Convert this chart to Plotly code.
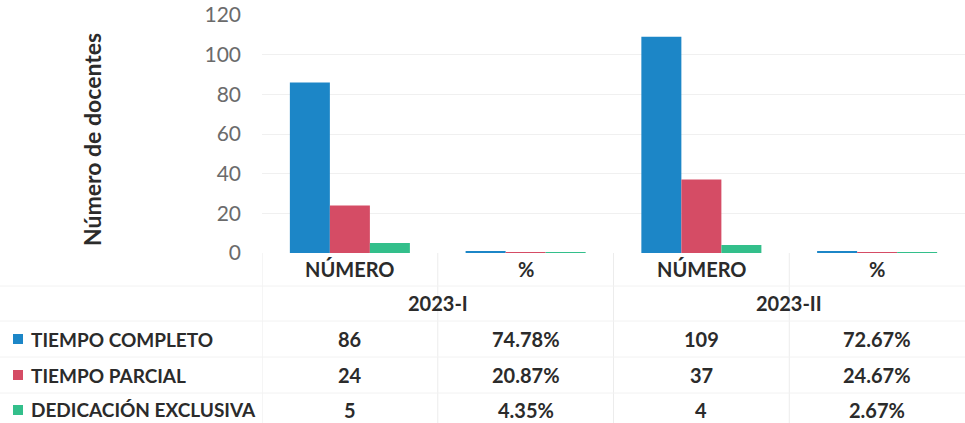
import plotly.graph_objects as go

categories = ["2023-I|NÚMERO", "2023-I|%", "2023-II|NÚMERO", "2023-II|%"]
sub_labels = ["NÚMERO", "%", "NÚMERO", "%"]
periods = ["2023-I", "2023-II"]
series_names = ["TIEMPO COMPLETO", "TIEMPO PARCIAL", "DEDICACIÓN EXCLUSIVA"]
tiempo_completo = [86, 0.7478, 109, 0.7267]
tiempo_parcial = [24, 0.2087, 37, 0.2467]
dedicacion_exclusiva = [5, 0.0435, 4, 0.0267]
table_text = [
    ["86", "74.78%", "109", "72.67%"],
    ["24", "20.87%", "37", "24.67%"],
    ["5", "4.35%", "4", "2.67%"],
]
y_ticks = [0, 20, 40, 60, 80, 100, 120]

colors = ["#1c86c7", "#d54c65", "#33bf8b"]
FONT = "Lato"
DARK = "#2b2b2b"

fig = go.Figure()
for name, vals, c in zip(series_names, [tiempo_completo, tiempo_parcial, dedicacion_exclusiva], colors):
    fig.add_trace(go.Bar(x=categories, y=vals, name=name, marker_color=c,
                         marker_line_width=0, showlegend=False))

# plot area: left 262, right 965, top 15, bottom 253
PH = 238.0
def py(pix):
    return (253 - pix) / PH

def px(pix):
    return (pix - 262) / 703.0

ann = []
for i, lab in enumerate(sub_labels):
    ann.append(dict(x=categories[i], xref="x", y=py(269), yref="paper", text=lab,
                    showarrow=False, font=dict(family=FONT, size=20, color=DARK, weight="bold"),
                    xanchor="center", yanchor="middle"))
for j, p in enumerate(periods):
    ann.append(dict(x=0.5 + 2 * j, xref="x", y=py(303), yref="paper", text=p,
                    showarrow=False, font=dict(family=FONT, size=20, color=DARK, weight="bold"),
                    xanchor="center", yanchor="middle"))
row_y = [339, 375, 410]
for r, (name, c) in enumerate(zip(series_names, colors)):
    for i in range(4):
        ann.append(dict(x=categories[i], xref="x", y=py(row_y[r]), yref="paper", text=table_text[r][i],
                        showarrow=False, font=dict(family=FONT, size=20, color=DARK, weight="bold"),
                        xanchor="center", yanchor="middle"))
    ann.append(dict(x=px(29), xref="paper", y=py(row_y[r]), yref="paper", text=name,
                    showarrow=False, font=dict(family=FONT, size=19, color=DARK, weight="bold"),
                    xanchor="left", yanchor="middle"))
ann.append(dict(x=px(92), xref="paper", y=py(140), yref="paper", text="Número de docentes",
                textangle=-90, showarrow=False,
                font=dict(family=FONT, size=23, color=DARK, weight="bold"),
                xanchor="center", yanchor="middle"))

shapes = []
for r, c in enumerate(colors):
    shapes.append(dict(type="rect", xref="paper", yref="paper",
                       x0=px(13), x1=px(23),
                       y0=py(row_y[r] + 5), y1=py(row_y[r] - 5),
                       fillcolor=c, line_width=0))
LINE = "#ececec"
for xv in [-0.5, 0.5, 1.5, 2.5]:
    shapes.append(dict(type="line", xref="x", yref="paper", x0=xv, x1=xv,
                       y0=0, y1=py(423), line=dict(color=LINE, width=1)))
for yp in [286, 321, 357, 393]:
    shapes.append(dict(type="line", xref="paper", yref="paper", x0=px(0), x1=1,
                       y0=py(yp), y1=py(yp), line=dict(color="#f2f2f2", width=1)))

fig.update_layout(
    width=965, height=423,
    margin=dict(l=262, r=0, t=15, b=170),
    paper_bgcolor="white", plot_bgcolor="white",
    barmode="group", bargap=0.317, bargroupgap=0,
    font=dict(family=FONT),
    annotations=ann, shapes=shapes,
    xaxis=dict(showticklabels=False, showgrid=False, zeroline=False, showline=False,
               ticks="", range=[-0.5, 3.5]),
    yaxis=dict(range=[0, 120], tickvals=y_ticks, showgrid=True, gridcolor="#f0f0f0",
               zeroline=False, showline=False, ticks="", automargin=False,
               tickfont=dict(family=FONT, size=21, color="#6b6b6b"),
               ticklabelstandoff=20),
)

fig.write_html("out.html", config={"displayModeBar": False},
               post_script="document.body.style.margin='0';document.body.style.overflow='hidden';")
